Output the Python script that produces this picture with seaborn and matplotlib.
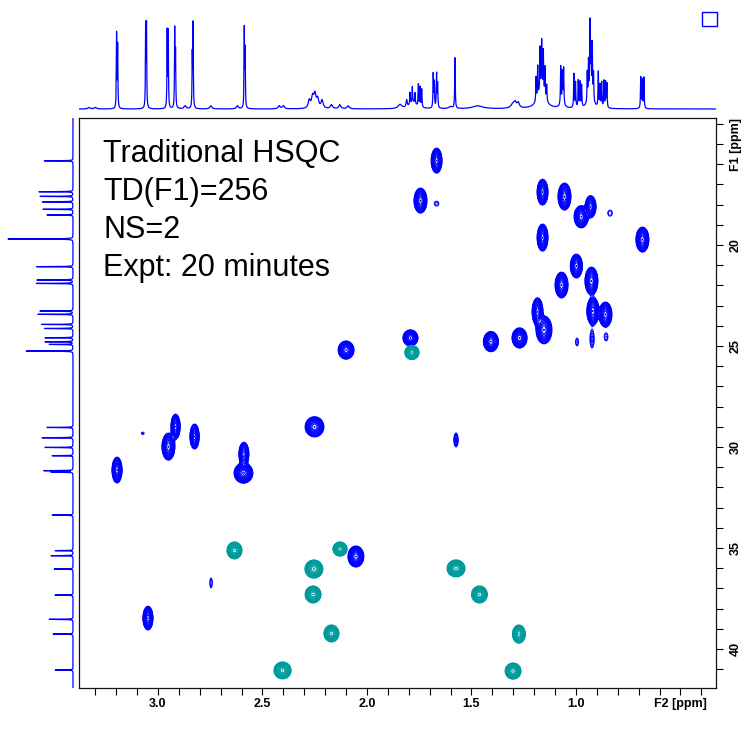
import numpy as np
import pandas as pd
import matplotlib
matplotlib.use("Agg")
import matplotlib.pyplot as plt
from matplotlib.patches import Rectangle
import seaborn as sns

# ------------------------------------------------------------------ data
# positive (CH/CH3) cross peaks: F2 shift, F1 shift, outer half-extent F2/F1 (ppm), relative intensity
pos_f2 = [1.667, 1.744, 1.667, 1.160, 1.055, 0.930, 0.975, 0.837, 1.160, 0.682,
          0.998, 1.069, 0.926, 1.184, 1.153, 0.919, 0.859, 0.995, 0.923, 0.856,
          1.270, 1.407, 1.792, 2.100, 2.916, 2.825, 2.950, 3.196, 2.589, 2.591,
          2.251, 3.073, 1.574, 2.053, 2.746, 3.048]
pos_f1 = [15.82, 17.80, 17.95, 17.38, 17.60, 18.10, 18.60, 18.42, 19.63, 19.73,
          21.04, 21.98, 21.78, 23.30, 24.20, 23.27, 23.44, 24.80, 24.65, 24.55,
          24.60, 24.78, 24.60, 25.20, 28.99, 29.48, 29.98, 31.14, 30.35, 31.29,
          29.00, 29.32, 29.65, 35.42, 36.73, 38.47]
pos_hw2 = [0.026, 0.031, 0.011, 0.026, 0.031, 0.026, 0.034, 0.011, 0.026, 0.031,
           0.029, 0.031, 0.031, 0.026, 0.038, 0.029, 0.031, 0.007, 0.010, 0.009,
           0.036, 0.036, 0.036, 0.038, 0.022, 0.022, 0.031, 0.024, 0.024, 0.045,
           0.045, 0.007, 0.010, 0.038, 0.006, 0.024]
pos_hw1 = [0.62, 0.62, 0.12, 0.64, 0.67, 0.55, 0.55, 0.15, 0.67, 0.62,
           0.59, 0.64, 0.69, 0.69, 0.69, 0.69, 0.62, 0.20, 0.45, 0.20,
           0.50, 0.50, 0.40, 0.45, 0.62, 0.62, 0.67, 0.64, 0.59, 0.50,
           0.50, 0.06, 0.35, 0.52, 0.25, 0.59]
pos_amp = [20, 20, 1.5, 20, 20, 20, 20, 1.5, 20, 20,
           20, 20, 20, 20, 20, 20, 20, 1.5, 2.0, 1.5,
           20, 20, 20, 20, 20, 20, 20, 20, 15, 25,
           20, 1.3, 3.0, 20, 1.5, 20]

# negative (CH2) cross peaks
neg_f2 = [1.785, 2.634, 2.129, 2.254, 2.258, 2.170, 2.404, 1.574, 1.462, 1.273, 1.301]
neg_f1 = [25.32, 35.12, 35.05, 36.04, 37.30, 39.23, 41.06, 36.01, 37.30, 39.26, 41.09]
neg_hw2 = [0.034, 0.036, 0.034, 0.043, 0.038, 0.036, 0.041, 0.043, 0.038, 0.031, 0.038]
neg_hw1 = [0.35, 0.42, 0.35, 0.45, 0.42, 0.42, 0.42, 0.42, 0.42, 0.45, 0.40]
neg_amp = [20, 20, 20, 20, 20, 20, 20, 20, 20, 20, 20]

# 1H projection (top trace): shift (ppm), height, line half-width (ppm)
h1_shift = [3.198, 3.193, 3.059, 3.055, 2.956, 2.951, 2.920, 2.916, 2.836, 2.832,
            2.587, 2.583, 2.276, 2.260, 2.249, 2.236, 2.215, 2.420, 2.400, 2.170,
            2.130, 2.090, 2.747, 2.870, 2.620, 3.330, 3.300,
            1.842, 1.810, 1.794, 1.783, 1.770, 1.754, 1.746, 1.738, 1.780,
            1.683, 1.678, 1.667, 1.662, 1.579, 1.600, 1.470, 1.300, 1.290, 1.276,
            1.165, 1.191, 1.183, 1.172, 1.164, 1.156, 1.148, 1.140,
            1.073, 1.065, 1.059, 1.066,
            1.010, 1.002, 0.989, 0.981, 0.973,
            0.946, 0.940, 0.933, 0.928, 0.922, 0.916, 0.930,
            0.893, 0.885, 0.877, 0.866, 0.858, 0.852,
            0.690, 0.683, 0.675]
h1_height = [75, 62, 80, 82, 76, 76, 78, 54, 52, 83,
             79, 56, 8, 11, 13, 9, 8, 3, 3, 4,
             4, 3, 3, 3, 3, 1.5, 1.5,
             4, 7, 12, 16, 11, 22, 20, 18, 6,
             34, 25, 34, 24, 51, 2, 3, 5, 4, 5,
             18, 24, 32, 44, 49, 42, 30, 16,
             38, 30, 36, 5,
             34, 25, 27, 25, 22,
             30, 38, 74, 48, 54, 28, 10,
             35, 22, 25, 27, 25, 24,
             31, 28, 31]
h1_width = [0.0013] * 12 + [0.006] * 15 + \
           [0.01, 0.003, 0.0015, 0.0015, 0.0015, 0.0015, 0.0015, 0.0015, 0.02] + \
           [0.0015] * 5 + [0.01, 0.03, 0.012, 0.006, 0.006] + \
           [0.02] + [0.0015] * 7 + \
           [0.0015] * 3 + [0.01] + \
           [0.0015] * 5 + \
           [0.0015] * 6 + [0.015] + \
           [0.0015] * 6 + \
           [0.0015] * 3

# 13C projection (left trace): shift (ppm), height
c13_shift = [15.83, 17.36, 17.59, 17.86, 18.23, 18.51, 19.70, 21.07, 21.73, 21.90,
             23.27, 23.43, 23.93, 24.13, 24.59, 24.79, 24.92, 25.25, 29.03, 29.54,
             30.02, 30.43, 31.17, 31.24, 33.37, 35.13, 35.38, 36.04, 37.33, 38.53,
             39.26, 41.04]
c13_height = [29, 34, 33, 31, 30, 26, 65, 37, 36, 37,
              33, 35, 32, 29, 28, 28, 24, 47, 26, 31,
              28, 21, 29, 22, 21, 18, 22, 19, 18, 24,
              20, 18]

x_ticks = [3.0, 2.5, 2.0, 1.5, 1.0, 0.5]
x_ticklabels = ["3.0", "2.5", "2.0", "1.5", "1.0", "F2 [ppm]"]
y_ticks = [15, 20, 25, 30, 35, 40]
y_ticklabels = ["F1 [ppm]", "20", "25", "30", "35", "40"]
annotation_lines = ["Traditional HSQC", "TD(F1)=256", "NS=2", "Expt: 20 minutes"]

# ------------------------------------------------------------------ style
sns.set_style("white")
plt.rcParams["font.family"] = ["Liberation Sans", "DejaVu Sans"]

BLUE = "#0000FF"
TEAL = "#009B9B"
X_LIM = (3.378, 0.330)
Y_LIM = (41.93, 13.71)

W, H = 746, 744
fig = plt.figure(figsize=(W / 100, H / 100), dpi=100)


def px_axes(x0, y0, x1, y1):
    return fig.add_axes([x0 / W, 1 - y1 / H, (x1 - x0) / W, (y1 - y0) / H])


ax = px_axes(79, 118, 716, 688)
ax_top = px_axes(79, 0, 716, 112)
ax_left = px_axes(0, 118, 76, 688)

# ------------------------------------------------------------------ 2D contours
gx = np.linspace(X_LIM[1], X_LIM[0], 900)
gy = np.linspace(Y_LIM[1], Y_LIM[0], 800)
GX, GY = np.meshgrid(gx, gy)


def field(f2s, f1s, hw2s, hw1s, amps):
    Z = np.zeros_like(GX)
    for f2, f1, w2, w1, a in zip(f2s, f1s, hw2s, hw1s, amps):
        k = np.sqrt(2 * np.log(a))
        s2, s1 = w2 / k, w1 / k
        Z += a * np.exp(-0.5 * (((GX - f2) / s2) ** 2 + ((GY - f1) / s1) ** 2))
    return Z


Zp = field(pos_f2, pos_f1, pos_hw2, pos_hw1, pos_amp)
Zn = field(neg_f2, neg_f1, neg_hw2, neg_hw1, neg_amp)
levels = 1.0 * 1.22 ** np.arange(0, 18)
ax.contour(GX, GY, Zp, levels=levels, colors=BLUE, linewidths=0.7)
ax.contour(GX, GY, Zn, levels=levels, colors=TEAL, linewidths=0.7)

ax.set_xlim(*X_LIM)
ax.set_ylim(*Y_LIM)
ax.set_xticks(x_ticks)
ax.set_xticklabels(x_ticklabels)
ax.set_xticks(np.round(np.arange(0.4, 3.35, 0.1), 2), minor=True)
ax.set_yticks(y_ticks)
ax.set_yticklabels(y_ticklabels)
ax.set_yticks(np.arange(14, 42, 1), minor=True)
ax.yaxis.tick_right()
ax.tick_params(axis="x", which="both", direction="out", length=5, width=0.8,
               bottom=True, top=False, pad=2, labelsize=9, colors="black")
ax.tick_params(axis="y", which="both", direction="out", length=5, width=0.8,
               right=True, left=False, pad=5, labelsize=9, labelrotation=90, colors="black")
for lab in ax.get_xticklabels() + ax.get_yticklabels():
    lab.set_fontweight("bold")
for lab in ax.get_yticklabels():
    lab.set_va("center")
for s in ax.spines.values():
    s.set_visible(True)
    s.set_color("#111111")
    s.set_linewidth(0.9)
ax.set_xlabel("")
ax.set_ylabel("")

# ------------------------------------------------------------------ 1D projections
xs = np.linspace(X_LIM[1], X_LIM[0], 9000)
top = np.zeros_like(xs)
for c, h, w in zip(h1_shift, h1_height, h1_width):
    top += h / (1 + ((xs - c) / w) ** 2)
df_top = pd.DataFrame({"ppm": xs, "I": top})
sns.lineplot(data=df_top, x="ppm", y="I", ax=ax_top, color=BLUE, linewidth=0.9,
             sort=False, estimator=None)
ax_top.set_xlim(*X_LIM)
ax_top.set_ylim(-3, 109)
ax_top.axis("off")

ys = np.linspace(Y_LIM[1], Y_LIM[0], 12000)
left = np.zeros_like(ys)
for c, h in zip(c13_shift, c13_height):
    left += h / (1 + ((ys - c) / 0.008) ** 2)
df_left = pd.DataFrame({"ppm": ys, "I": left})
sns.lineplot(data=df_left, x="I", y="ppm", ax=ax_left, color=BLUE, linewidth=0.9,
             sort=False, estimator=None, orient="y")
ax_left.set_xlim(73, -3)
ax_left.set_ylim(*Y_LIM)
ax_left.axis("off")

# ------------------------------------------------------------------ annotations
for txt, yb in zip(annotation_lines, [161.7, 200.0, 238.3, 275.5]):
    fig.text(103 / W, 1 - yb / H, txt, fontsize=22, color="black",
             ha="left", va="baseline")

fig.patches.append(Rectangle((702 / W, 1 - 26 / H), 15 / W, 14 / H,
                             transform=fig.transFigure, fill=False,
                             edgecolor=BLUE, linewidth=1.0))

fig.savefig("out.png", dpi=100)
